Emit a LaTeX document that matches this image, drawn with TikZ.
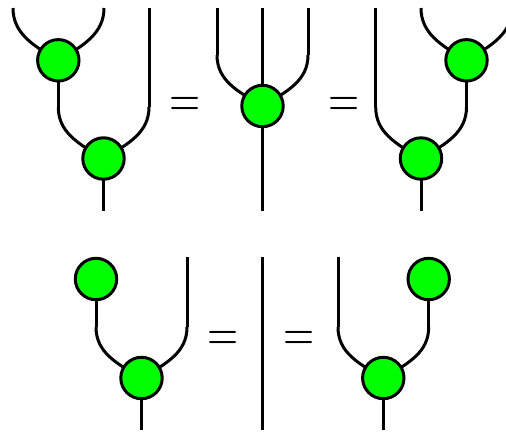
\documentclass[tikz,border=0pt]{standalone}
\usetikzlibrary{backgrounds}
\tikzset{
  x=1pt,y=-1pt,
  dot/.style={circle,draw=black,fill=green,line width=3pt,minimum size=41.4pt,inner sep=0pt,outer sep=0pt},
  wire/.style={draw=black,line width=3pt,line cap=butt,line join=round},
  eqsign/.style={inner sep=0pt,outer sep=0pt}
}
\newcommand{\wireL}[2]{\draw[wire] (#1) -- ++(0,0) .. controls +(0,25) and +(-26,-15) .. (#2.center);}
\newcommand{\wireR}[2]{\draw[wire] (#1) -- ++(0,0) .. controls +(0,25) and +(26,-15) .. (#2.center);}
\newcommand{\eqglyph}{\scalebox{4}[5.2]{\fontsize{10}{12}\selectfont =}}
\begin{document}
\begin{tikzpicture}
\useasboundingbox (0,0) rectangle (506,432);
\clip (0,0) rectangle (506,432);
% top-left diagram
\node[dot] (a1) at (58.3,60.3) {};
\node[dot] (a2) at (103.5,158.5) {};
\coordinate (a1l) at (13,8);
\coordinate (a1r) at (104,8);
\coordinate (a2lb) at (58.3,107);
\coordinate (a2r) at (149,8);
\coordinate (a2rb) at (149,107);
\coordinate (a2o) at (103.5,211);
% top-middle diagram
\node[dot] (b) at (262.5,106) {};
\coordinate (bl) at (217,8);
\coordinate (blb) at (217,55);
\coordinate (bm) at (262.5,8);
\coordinate (br) at (308,8);
\coordinate (brb) at (308,55);
\coordinate (bo) at (262.5,211);
% top-right diagram
\node[dot] (c1) at (466.5,60.3) {};
\node[dot] (c2) at (421,158.5) {};
\coordinate (c1l) at (421,8);
\coordinate (c1r) at (512,8);
\coordinate (c2l) at (375.7,8);
\coordinate (c2lb) at (375.7,107);
\coordinate (c2rb) at (466.5,107);
\coordinate (c2o) at (421,211);
% bottom-left diagram
\node[dot] (d1) at (96,279) {};
\node[dot] (d2) at (141.5,378) {};
\coordinate (d2lb) at (96,327);
\coordinate (d2r) at (187,257);
\coordinate (d2rb) at (187,327);
\coordinate (d2o) at (141.5,430);
% identity
\coordinate (et) at (262.5,257);
\coordinate (eb) at (262.5,430);
% bottom-right diagram
\node[dot] (f1) at (428.7,279) {};
\node[dot] (f2) at (383.3,378) {};
\coordinate (f2l) at (338,257);
\coordinate (f2lb) at (338,327);
\coordinate (f2rb) at (428.7,327);
\coordinate (f2o) at (383.3,430);
% equals signs
\node[eqsign] (q1) at (185.5,106.8) {\eqglyph};
\node[eqsign] (q2) at (344,106.8) {\eqglyph};
\node[eqsign] (q3) at (223,341.2) {\eqglyph};
\node[eqsign] (q4) at (299,341.2) {\eqglyph};
\begin{scope}[on background layer]
\wireL{a1l}{a1}
\wireR{a1r}{a1}
\draw[wire] (a1.center) -- (a2lb);
\wireL{a2lb}{a2}
\draw[wire] (a2r) -- (a2rb);
\wireR{a2rb}{a2}
\draw[wire] (a2.center) -- (a2o);
\draw[wire] (bl) -- (blb);
\wireL{blb}{b}
\draw[wire] (bm) -- (bo);
\draw[wire] (br) -- (brb);
\wireR{brb}{b}
\wireL{c1l}{c1}
\wireR{c1r}{c1}
\draw[wire] (c2l) -- (c2lb);
\wireL{c2lb}{c2}
\draw[wire] (c1.center) -- (c2rb);
\wireR{c2rb}{c2}
\draw[wire] (c2.center) -- (c2o);
\draw[wire] (d1.center) -- (d2lb);
\wireL{d2lb}{d2}
\draw[wire] (d2r) -- (d2rb);
\wireR{d2rb}{d2}
\draw[wire] (d2.center) -- (d2o);
\draw[wire] (et) -- (eb);
\draw[wire] (f2l) -- (f2lb);
\wireL{f2lb}{f2}
\draw[wire] (f1.center) -- (f2rb);
\wireR{f2rb}{f2}
\draw[wire] (f2.center) -- (f2o);
\end{scope}
\end{tikzpicture}
\end{document}
